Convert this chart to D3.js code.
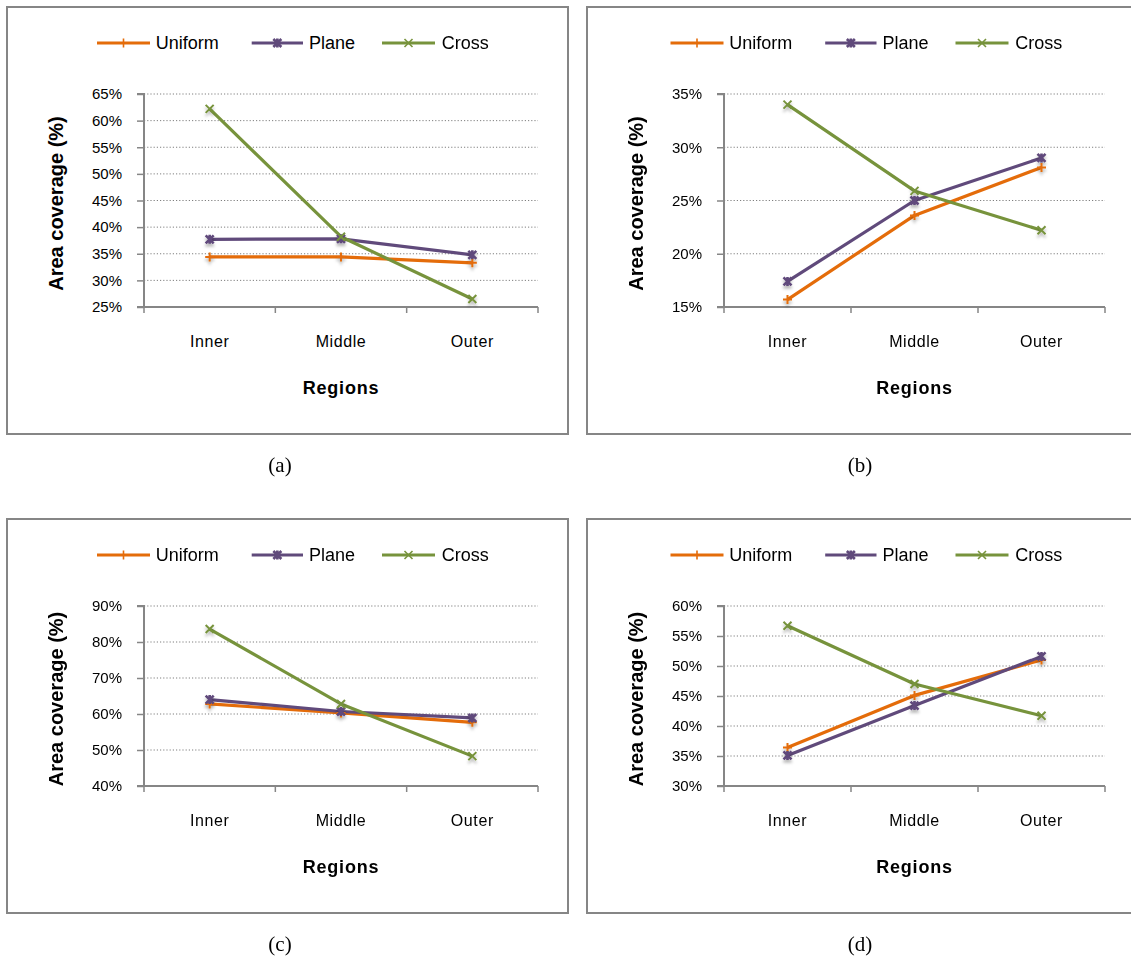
<!DOCTYPE html>
<html>
<head>
<meta charset="utf-8">
<script src="https://cdn.jsdelivr.net/npm/d3@7"></script>
<style>
  html, body { margin: 0; padding: 0; background: #fff; }
  svg { display: block; }
  text { font-family: "Liberation Sans", Arial, sans-serif; fill: #000; }
</style>
</head>
<body>
<svg id="fig" width="1131" height="965"></svg>
<script>
// Categories and series names
const regions = ["Inner", "Middle", "Outer"];
const seriesNames = ["Uniform", "Plane", "Cross"];

// (a) area coverage, %
const uniformA = [34.4, 34.4, 33.3];
const planeA   = [37.7, 37.8, 34.8];
const crossA   = [62.2, 38.2, 26.5];
const ticksA   = [25, 30, 35, 40, 45, 50, 55, 60, 65];

// (b)
const uniformB = [15.7, 23.6, 28.1];
const planeB   = [17.4, 25.0, 29.0];
const crossB   = [34.0, 25.9, 22.2];
const ticksB   = [15, 20, 25, 30, 35];

// (c)
const uniformC = [62.8, 60.3, 57.7];
const planeC   = [64.0, 60.7, 58.9];
const crossC   = [83.6, 62.8, 48.3];
const ticksC   = [40, 50, 60, 70, 80, 90];

// (d)
const uniformD = [36.4, 45.1, 51.0];
const planeD   = [35.1, 43.4, 51.6];
const crossD   = [56.7, 47.0, 41.7];
const ticksD   = [30, 35, 40, 45, 50, 55, 60];

const colors = { Uniform: "#E46C0A", Plane: "#604A7B", Cross: "#77933C" };
const markerPaths = {
  Uniform: "M-4.5,0H4.5M0,-4.5V4.5",
  Plane: "M-4,-4L4,4M-4,4L4,-4M0,-4.5V4.5",
  Cross: "M-4,-4L4,4M-4,4L4,-4"
};

const panels = [
  { tag: "(a)", x: 7,   y: 7,   w: 561, h: 427, ticks: ticksA, values: [uniformA, planeA, crossA] },
  { tag: "(b)", x: 587, y: 7,   w: 548, h: 427, ticks: ticksB, values: [uniformB, planeB, crossB] },
  { tag: "(c)", x: 7,   y: 519, w: 561, h: 394, ticks: ticksC, values: [uniformC, planeC, crossC] },
  { tag: "(d)", x: 587, y: 519, w: 548, h: 394, ticks: ticksD, values: [uniformD, planeD, crossD] }
];

const svg = d3.select("#fig");
svg.append("rect").attr("width", 1131).attr("height", 965).attr("fill", "#fff");

const defs = svg.append("defs");
const shadow = defs.append("filter").attr("id", "mshadow")
  .attr("x", "-100%").attr("y", "-100%").attr("width", "300%").attr("height", "300%");
shadow.append("feDropShadow").attr("dx", 0).attr("dy", 3).attr("stdDeviation", 1.8)
  .attr("flood-color", "#000").attr("flood-opacity", 0.28);

const axisGray = "#868686";

panels.forEach(p => {
  const g = svg.append("g");
  const left = p.x + 137, right = p.x + p.w - 30;
  const top = p.y + 87, bottom = p.y + p.h - 127;

  // frame
  g.append("rect")
    .attr("x", p.x).attr("y", p.y).attr("width", p.w).attr("height", p.h)
    .attr("fill", "#fff").attr("stroke", axisGray).attr("stroke-width", 2);

  const x = d3.scaleBand().domain(regions).range([left, right]).paddingInner(0).paddingOuter(0);
  const y = d3.scaleLinear().domain([d3.min(p.ticks), d3.max(p.ticks)]).range([bottom, top]);
  const cx = c => x(c) + x.bandwidth() / 2;

  // horizontal dotted gridlines
  g.append("g").selectAll("line")
    .data(p.ticks.slice(1))
    .join("line")
    .attr("x1", left).attr("x2", right)
    .attr("y1", d => y(d)).attr("y2", d => y(d))
    .attr("stroke", "#7f7f7f").attr("stroke-width", 1)
    .attr("stroke-dasharray", "1.2,2");

  // y axis
  const yAxis = d3.axisLeft(y).tickValues(p.ticks).tickFormat(d => d + "%").tickSize(7).tickPadding(15);
  const ya = g.append("g").attr("transform", `translate(${left},0)`).call(yAxis);
  ya.select(".domain").attr("stroke", axisGray).attr("stroke-width", 2).attr("d", `M-7,${top}H0V${bottom}H-7`);
  ya.selectAll(".tick line").attr("stroke", axisGray).attr("stroke-width", 1.5);
  ya.selectAll(".tick text").attr("font-size", 15).attr("font-family", "Liberation Sans, Arial, sans-serif").attr("fill", "#000");

  // x axis with tick marks at category boundaries
  g.append("line").attr("x1", left).attr("x2", right).attr("y1", bottom).attr("y2", bottom)
    .attr("stroke", axisGray).attr("stroke-width", 2);
  const edges = regions.map(r => x(r)).concat([right]);
  g.append("g").selectAll("line").data(edges).join("line")
    .attr("x1", d => d).attr("x2", d => d).attr("y1", bottom).attr("y2", bottom + 6)
    .attr("stroke", axisGray).attr("stroke-width", 1.5);
  g.append("g").selectAll("text").data(regions).join("text")
    .attr("x", d => cx(d)).attr("y", bottom + 40)
    .attr("text-anchor", "middle").attr("font-size", 16).attr("letter-spacing", 0.6)
    .text(d => d);

  // axis titles
  g.append("text").attr("x", (left + right) / 2).attr("y", bottom + 87)
    .attr("text-anchor", "middle").attr("font-size", 18).attr("font-weight", "bold")
    .attr("letter-spacing", 0.8).text("Regions");
  g.append("text")
    .attr("transform", `translate(${p.x + 56},${(top + bottom) / 2 + 3}) rotate(-90)`)
    .attr("text-anchor", "middle").attr("font-size", 20).attr("font-weight", "bold")
    .text("Area coverage (%)");

  // series lines
  const line = d3.line().x((d, i) => cx(regions[i])).y(d => y(d));
  seriesNames.forEach((s, k) => {
    g.append("path").datum(p.values[k])
      .attr("d", line).attr("fill", "none")
      .attr("stroke", colors[s]).attr("stroke-width", 3.2)
      .attr("stroke-linejoin", "round");
  });
  // markers
  const mg = g.append("g").attr("filter", "url(#mshadow)");
  seriesNames.forEach((s, k) => {
    mg.selectAll(null).data(p.values[k]).join("path")
      .attr("transform", (d, i) => `translate(${cx(regions[i])},${y(d)})`)
      .attr("d", markerPaths[s]).attr("fill", "none")
      .attr("stroke", colors[s]).attr("stroke-width", s === "Plane" ? 2.6 : 2);
  });

  // legend
  const lx = p.x + (p.w - 391) / 2 + 5, ly = p.y + 36;
  const legendItems = [
    { name: "Uniform", x0: 0,     x1: 53,  tx: 58.7 },
    { name: "Plane",   x0: 154.7, x1: 206, tx: 212 },
    { name: "Cross",   x0: 285,   x1: 338, tx: 344.7 }
  ];
  legendItems.forEach(it => {
    g.append("line").attr("x1", lx + it.x0).attr("x2", lx + it.x1).attr("y1", ly).attr("y2", ly)
      .attr("stroke", colors[it.name]).attr("stroke-width", 3.2);
    g.append("path").attr("transform", `translate(${lx + (it.x0 + it.x1) / 2},${ly})`)
      .attr("d", markerPaths[it.name]).attr("fill", "none")
      .attr("stroke", colors[it.name]).attr("stroke-width", it.name === "Plane" ? 2.6 : 1.6);
    g.append("text").attr("x", lx + it.tx).attr("y", ly).attr("dy", "0.36em")
      .attr("font-size", 18).text(it.name);
  });

  // sub-figure label
  svg.append("text").attr("x", p.x + 273).attr("y", p.y + p.h + 38)
    .attr("text-anchor", "middle").attr("font-size", 21)
    .style("font-family", "'Liberation Serif', 'Times New Roman', serif")
    .text(p.tag);
});
</script>
</body>
</html>
